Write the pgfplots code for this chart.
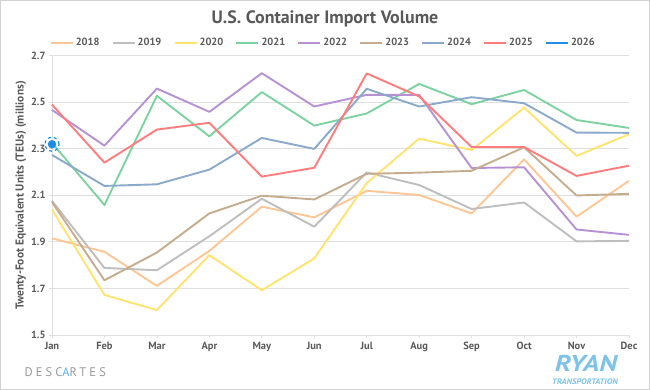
\documentclass[border=0pt]{standalone}
\usepackage{fontspec}
\setmainfont{PT Sans}
\usepackage{pgfplots}
\pgfplotsset{compat=1.18}
\definecolor{txt}{HTML}{595959}
\definecolor{cA}{HTML}{FFC08A}
\definecolor{cB}{HTML}{BEBEBE}
\definecolor{cC}{HTML}{FFE36E}
\definecolor{cD}{HTML}{7DD3A0}
\definecolor{cE}{HTML}{B692D4}
\definecolor{cF}{HTML}{C6AC8E}
\definecolor{cG}{HTML}{8AA9CB}
\definecolor{cH}{HTML}{FF7C7C}
\definecolor{cI}{HTML}{1A8FE8}
\definecolor{ryan}{HTML}{7DC3E8}
\definecolor{gridc}{HTML}{E0E0E0}
\begin{document}
\begin{tikzpicture}
\useasboundingbox (0,0) rectangle (650bp,390bp);
\draw[gray!35, line width=0.8bp] (0.5bp,0.5bp) rectangle (649.5bp,389.5bp);
\node[font=\bfseries\fontsize{18}{20}\selectfont, text=txt] at (325bp,371bp) {U.S. Container Import Volume};
\begin{axis}[
  at={(52bp,55bp)}, anchor=south west,
  scale only axis, width=577bp, height=279.5bp,
  xmin=0, xmax=11, ymin=1.5, ymax=2.7,
  xtick={0,...,11},
  xticklabels={Jan,Feb,Mar,Apr,May,Jun,Jul,Aug,Sep,Oct,Nov,Dec},
  ytick={1.5,1.7,1.9,2.1,2.3,2.5,2.7},
  yticklabels={1.5,1.7,1.9,2.1,2.3,2.5,2.7},
  ymajorgrids, grid style={gridc, line width=0.7bp},
  axis line style={gridc, line width=0.7bp},
  axis x line*=bottom, axis y line*=left,
  tick style={gridc, line width=0.7bp},
  tick align=outside, major tick length=3bp,
  ticklabel style={font=\bfseries\fontsize{10.5}{12}\selectfont, text=txt},
  xticklabel style={yshift=-1bp},
  ylabel={Twenty-Foot Equivalent Units (TEUs) (millions)},
  ylabel style={font=\bfseries\fontsize{11.5}{13}\selectfont, text=txt, yshift=-2bp},
  legend style={at={(0.47,1.0)}, anchor=south, yshift=4bp, draw=none, fill=none,
    legend columns=9, font=\bfseries\fontsize{10.5}{12}\selectfont, text=txt,
    /tikz/every even column/.append style={column sep=10bp}},
  legend image code/.code={\draw[#1, line width=2.2bp] (0bp,0bp) -- (22bp,0bp);},
  every axis plot/.append style={line width=1.9bp, line join=round},
  clip=false,
]
\addplot[cA, opacity=0.9] coordinates {(0,1.915)(1,1.857)(2,1.711)(3,1.861)(4,2.051)(5,2.005)(6,2.119)(7,2.101)(8,2.022)(9,2.254)(10,2.008)(11,2.162)};
\addlegendentry{2018}
\addplot[cB] coordinates {(0,2.076)(1,1.788)(2,1.778)(3,1.924)(4,2.085)(5,1.965)(6,2.198)(7,2.144)(8,2.041)(9,2.069)(10,1.902)(11,1.904)};
\addlegendentry{2019}
\addplot[cC] coordinates {(0,2.039)(1,1.672)(2,1.607)(3,1.843)(4,1.692)(5,1.829)(6,2.152)(7,2.343)(8,2.294)(9,2.476)(10,2.269)(11,2.362)};
\addlegendentry{2020}
\addplot[cD] coordinates {(0,2.325)(1,2.058)(2,2.527)(3,2.353)(4,2.543)(5,2.399)(6,2.451)(7,2.578)(8,2.491)(9,2.552)(10,2.423)(11,2.389)};
\addlegendentry{2021}
\addplot[cE] coordinates {(0,2.466)(1,2.313)(2,2.558)(3,2.458)(4,2.624)(5,2.481)(6,2.531)(7,2.531)(8,2.217)(9,2.220)(10,1.953)(11,1.930)};
\addlegendentry{2022}
\addplot[cF] coordinates {(0,2.071)(1,1.735)(2,1.854)(3,2.022)(4,2.098)(5,2.082)(6,2.192)(7,2.197)(8,2.205)(9,2.306)(10,2.099)(11,2.106)};
\addlegendentry{2023}
\addplot[cG] coordinates {(0,2.273)(1,2.140)(2,2.147)(3,2.210)(4,2.346)(5,2.299)(6,2.557)(7,2.481)(8,2.521)(9,2.495)(10,2.369)(11,2.368)};
\addlegendentry{2024}
\addplot[cH] coordinates {(0,2.489)(1,2.240)(2,2.382)(3,2.411)(4,2.180)(5,2.218)(6,2.623)(7,2.524)(8,2.307)(9,2.307)(10,2.183)(11,2.227)};
\addlegendentry{2025}
\addplot[cI, mark=*, mark size=3.2bp, mark options={solid, fill=cI, draw=cI}] coordinates {(0,2.319)};
\addlegendentry{2026}
\addplot[cI, forget plot, only marks, mark=o, mark size=7bp, mark options={dashed, line width=1.2bp, draw=cI}] coordinates {(0,2.319)};
\end{axis}
\node[anchor=west, text=gray!80, font=\fontsize{12.5}{14}\selectfont\addfontfeature{LetterSpace=25}] at (21bp,18bp) {DESC\textcolor{cI!70}{A}RTES};
\node[anchor=base, text=ryan, font=\bfseries\itshape\fontsize{23}{25}\selectfont, xscale=1.22, inner sep=0pt] at (586bp,19bp) {RYAN};
\node[anchor=base, text=ryan, font=\bfseries\itshape\fontsize{8}{9}\selectfont, xscale=1.08, inner sep=0pt] at (585bp,6bp) {TRANSPORTATION};
\end{tikzpicture}
\end{document}
